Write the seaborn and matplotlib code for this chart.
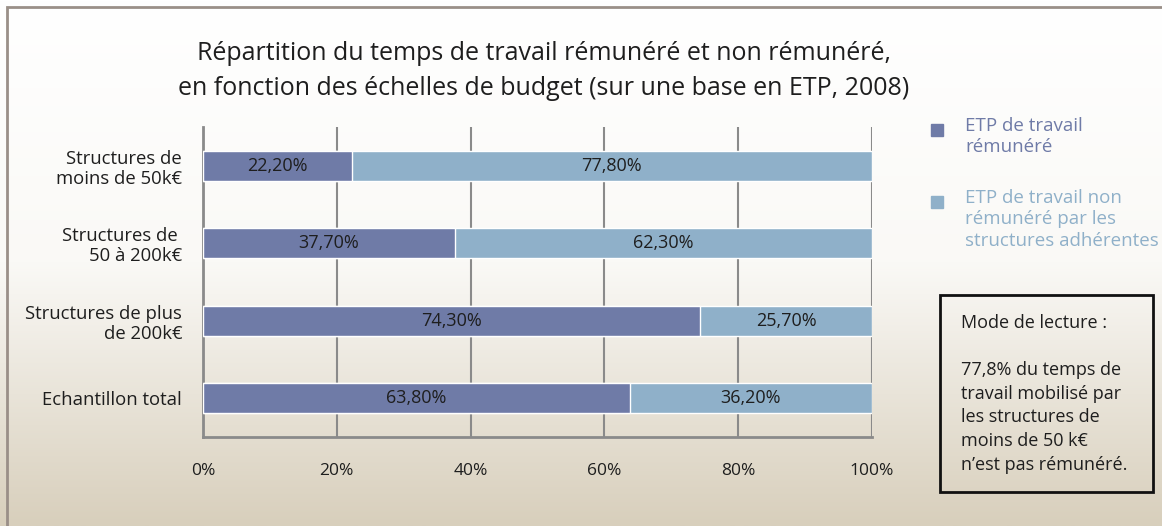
"""Stacked horizontal bars: paid vs unpaid FTE share by budget scale (2008)."""
import matplotlib
matplotlib.use("Agg")
import matplotlib.pyplot as plt
import matplotlib.patches as mpatches
import matplotlib.colors as mcolors
import numpy as np
import pandas as pd
import seaborn as sns

categories = [
    "Structures de\nmoins de 50k€",
    "Structures de \n50 à 200k€",
    "Structures de plus\nde 200k€",
    "Echantillon total",
]
paid = [22.2, 37.7, 74.3, 63.8]
unpaid = [77.8, 62.3, 25.7, 36.2]
x_ticks = [0, 20, 40, 60, 80, 100]
series_names = ["ETP de travail\nrémunéré", "ETP de travail non\nrémunéré par les\nstructures adhérentes"]

DARK = "#6f7ba7"
LIGHT = "#8fb0c9"
TXT = "#1e1e1e"
GRID = "#8a8a8a"

sns.set_theme(style="white")
plt.rcParams["font.family"] = ["Open Sans", "DejaVu Sans"]

df = pd.DataFrame({"cat": categories, "paid": paid, "unpaid": unpaid})
df["total"] = df["paid"] + df["unpaid"]

fig = plt.figure(figsize=(11.62, 5.26), dpi=100)

# background gradient, white at the top to beige at the bottom
bg = fig.add_axes([0, 0, 1, 1], zorder=-10)
grad = np.linspace(0, 1, 256).reshape(-1, 1)
cmap = mcolors.LinearSegmentedColormap.from_list("bg", ["#ffffff", "#faf9f6", "#d8cfbc"])
bg.imshow(grad, aspect="auto", cmap=cmap, extent=[0, 1, 0, 1], origin="upper")
bg.set_axis_off()
bg.add_patch(mpatches.Rectangle((7 / 1162, -0.1), 1.2, 1 - 7 / 526 + 0.1, transform=bg.transAxes,
                                fill=False, edgecolor="#9a8f88", lw=2))

ax = fig.add_axes([203 / 1162, 1 - 437 / 526, (872 - 203) / 1162, (437 - 127) / 526])
ax.patch.set_alpha(0)

sns.barplot(data=df, x="total", y="cat", orient="h", color=LIGHT, width=0.39,
            saturation=1, ax=ax, zorder=3)
sns.barplot(data=df, x="paid", y="cat", orient="h", color=DARK, width=0.39,
            saturation=1, ax=ax, zorder=4)

for i, (p, u) in enumerate(zip(paid, unpaid)):
    ax.text(p / 2, i, f"{p:.2f}%".replace(".", ","), ha="center", va="center",
            fontsize=13, color=TXT, zorder=5)
    ax.text(p + u / 2, i, f"{u:.2f}%".replace(".", ","), ha="center", va="center",
            fontsize=13, color=TXT, zorder=5)

ax.set_xlim(0, 100)
ax.set_ylim(3.5, -0.5)
ax.set_xticks(x_ticks)
ax.set_xticklabels([f"{t}%" for t in x_ticks], fontsize=12.5, color=TXT)
ax.set_yticks(range(len(categories)))
ax.set_yticklabels(categories, fontsize=13.3, color=TXT, linespacing=1.15)
ax.set_yticks([i - 0.5 for i in range(len(categories) + 1)], minor=True)
ax.tick_params(axis="y", which="major", length=0, pad=15)
ax.tick_params(axis="y", which="minor", length=6, width=1.5, color=GRID, direction="out")
ax.tick_params(axis="x", length=6, width=1.5, color=GRID, direction="out", pad=13)
ax.xaxis.grid(True, color=GRID, lw=1.5, zorder=0)
ax.set_axisbelow(True)
ax.set_xlabel("")
ax.set_ylabel("")
for side in ["top", "right"]:
    ax.spines[side].set_visible(False)
for side in ["left", "bottom"]:
    ax.spines[side].set_color(GRID)
    ax.spines[side].set_linewidth(2)

fig.text(544 / 1162, 1 - 71 / 526,
         "Répartition du temps de travail rémunéré et non rémunéré,\n"
         "en fonction des échelles de budget (sur une base en ETP, 2008)",
         ha="center", va="center", fontsize=18, color=TXT, linespacing=1.5)

# legend, coloured text next to square markers
leg_y = [130, 202]
for name, col, y in zip(series_names, [DARK, LIGHT], leg_y):
    fig.add_artist(mpatches.Rectangle((931 / 1162, 1 - (y + 6) / 526), 12 / 1162, 12 / 526,
                                      transform=fig.transFigure, color=col))
    fig.text(965 / 1162, 1 - (y - 13) / 526, name, ha="left", va="top", fontsize=13.5,
             color=col, linespacing=1.25)

# reading guide box
fig.add_artist(mpatches.Rectangle((940 / 1162, 1 - 492 / 526), 213 / 1162, 197 / 526,
                                  transform=fig.transFigure, fill=False, edgecolor="#111111", lw=2))
fig.text(961 / 1162, 1 - 314 / 526,
         "Mode de lecture :\n\n77,8% du temps de\ntravail mobilisé par\nles structures de\n"
         "moins de 50 k€\nn’est pas rémunéré.",
         ha="left", va="top", fontsize=13, color=TXT, linespacing=1.4)

fig.savefig("out.png", dpi=100)
